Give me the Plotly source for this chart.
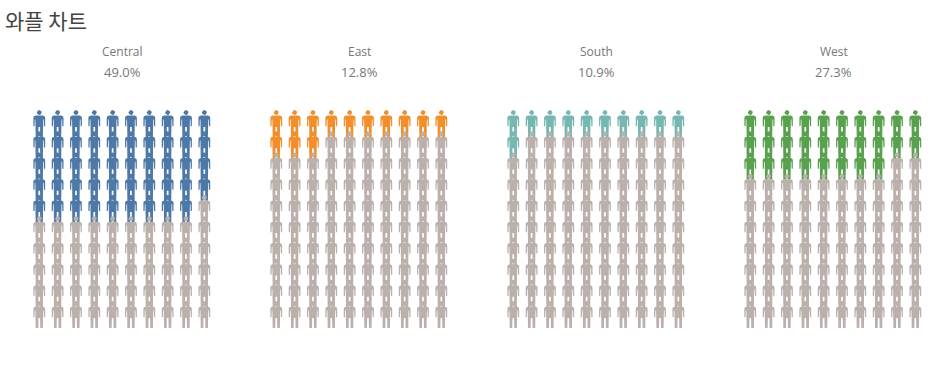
import math
import numpy as np
import plotly.graph_objects as go

W, H = 949, 373

# Data
title_text = "와플 차트"
categories = ["Central", "East", "South", "West"]
percent_values = [49.0, 12.8, 10.9, 27.3]
colors = ["#4e79a7", "#f28e2b", "#76b7b2", "#59a14f"]
rest_color = "#bab0ac"
n_cols = 10
n_rows = 10

# Layout, in pixels
panel_left = [30.1, 267.1, 504.1, 741.1]
panel_w = 183.4
col_pitch = panel_w / n_cols
row_pitch = 21.22
top_px = 110 - row_pitch
y_span = 12

# Pictogram outline, in pixels from the top centre of a figure
half = [(0, 5.6), (3.6, 5.6), (5.6, 6.6), (5.9, 8.2), (5.9, 16.2), (4.7, 16.2), (4.5, 9.4),
        (3.9, 9.4), (3.6, 27.0), (1.0, 27.0), (0.8, 17.0), (0, 17.0)]
body = half + [(-a, b) for a, b in reversed(half)]
head = [(2.5 * np.cos(t), 2.6 + 2.5 * np.sin(t)) for t in np.linspace(0, 2 * np.pi, 13)]


def figure_path(cols, rows):
    xs, ys = [], []
    for c, r in zip(cols, rows):
        for outline in (body, head):
            xs += [c + a / col_pitch for a, b in outline] + [None]
            ys += [r + b / row_pitch for a, b in outline] + [None]
    return xs, ys


fig = go.Figure()
annotations = []
for i, (cat, pct, col) in enumerate(zip(categories, percent_values, colors)):
    suffix = "" if i == 0 else str(i + 1)
    filled = math.ceil(pct)
    cells = [(c, r) for r in range(1, n_rows + 1) for c in range(1, n_cols + 1)]
    on, off = cells[:filled], cells[filled:]
    for group, colour in ((on, col), (off, rest_color)):
        xs, ys = figure_path([g[0] for g in group], [g[1] for g in group])
        fig.add_trace(go.Scatter(
            x=xs, y=ys, mode="lines", fill="toself", fillcolor=colour,
            line=dict(width=0, color=colour), hoverinfo="skip", showlegend=False,
            xaxis="x" + suffix, yaxis="y" + suffix,
        ))
    axis = dict(range=[0.5, n_cols + 0.5], visible=False, fixedrange=True,
                domain=[panel_left[i] / W, (panel_left[i] + panel_w) / W])
    yaxis = dict(range=[y_span, 0], visible=False, fixedrange=True,
                 domain=[1 - (top_px + y_span * row_pitch) / H, 1 - top_px / H])
    fig.update_layout({"xaxis" + suffix: axis, "yaxis" + suffix: yaxis})
    cx = (panel_left[i] + panel_w / 2 + 1) / W
    for text, py, size in ((cat, 51.5, 12), (f"{pct:.1f}%", 72, 13)):
        annotations.append(dict(
            text=text, x=cx, y=1 - py / H, xref="paper", yref="paper",
            showarrow=False, xanchor="center", yanchor="middle",
            font=dict(family="Open Sans", size=size, color="#777777"),
        ))

annotations.append(dict(
    text=title_text, x=3 / W, y=1 - 20 / H, xref="paper", yref="paper",
    showarrow=False, xanchor="left", yanchor="middle",
    font=dict(family="Noto Sans CJK KR", size=21, color="#444444"),
))

fig.update_layout(
    width=W, height=H, margin=dict(l=0, r=0, t=0, b=0),
    paper_bgcolor="white", plot_bgcolor="white",
    annotations=annotations,
)
fig.write_html("out.html", config={"displayModeBar": False},
               post_script="document.body.style.margin='0';document.body.style.overflow='hidden';")
